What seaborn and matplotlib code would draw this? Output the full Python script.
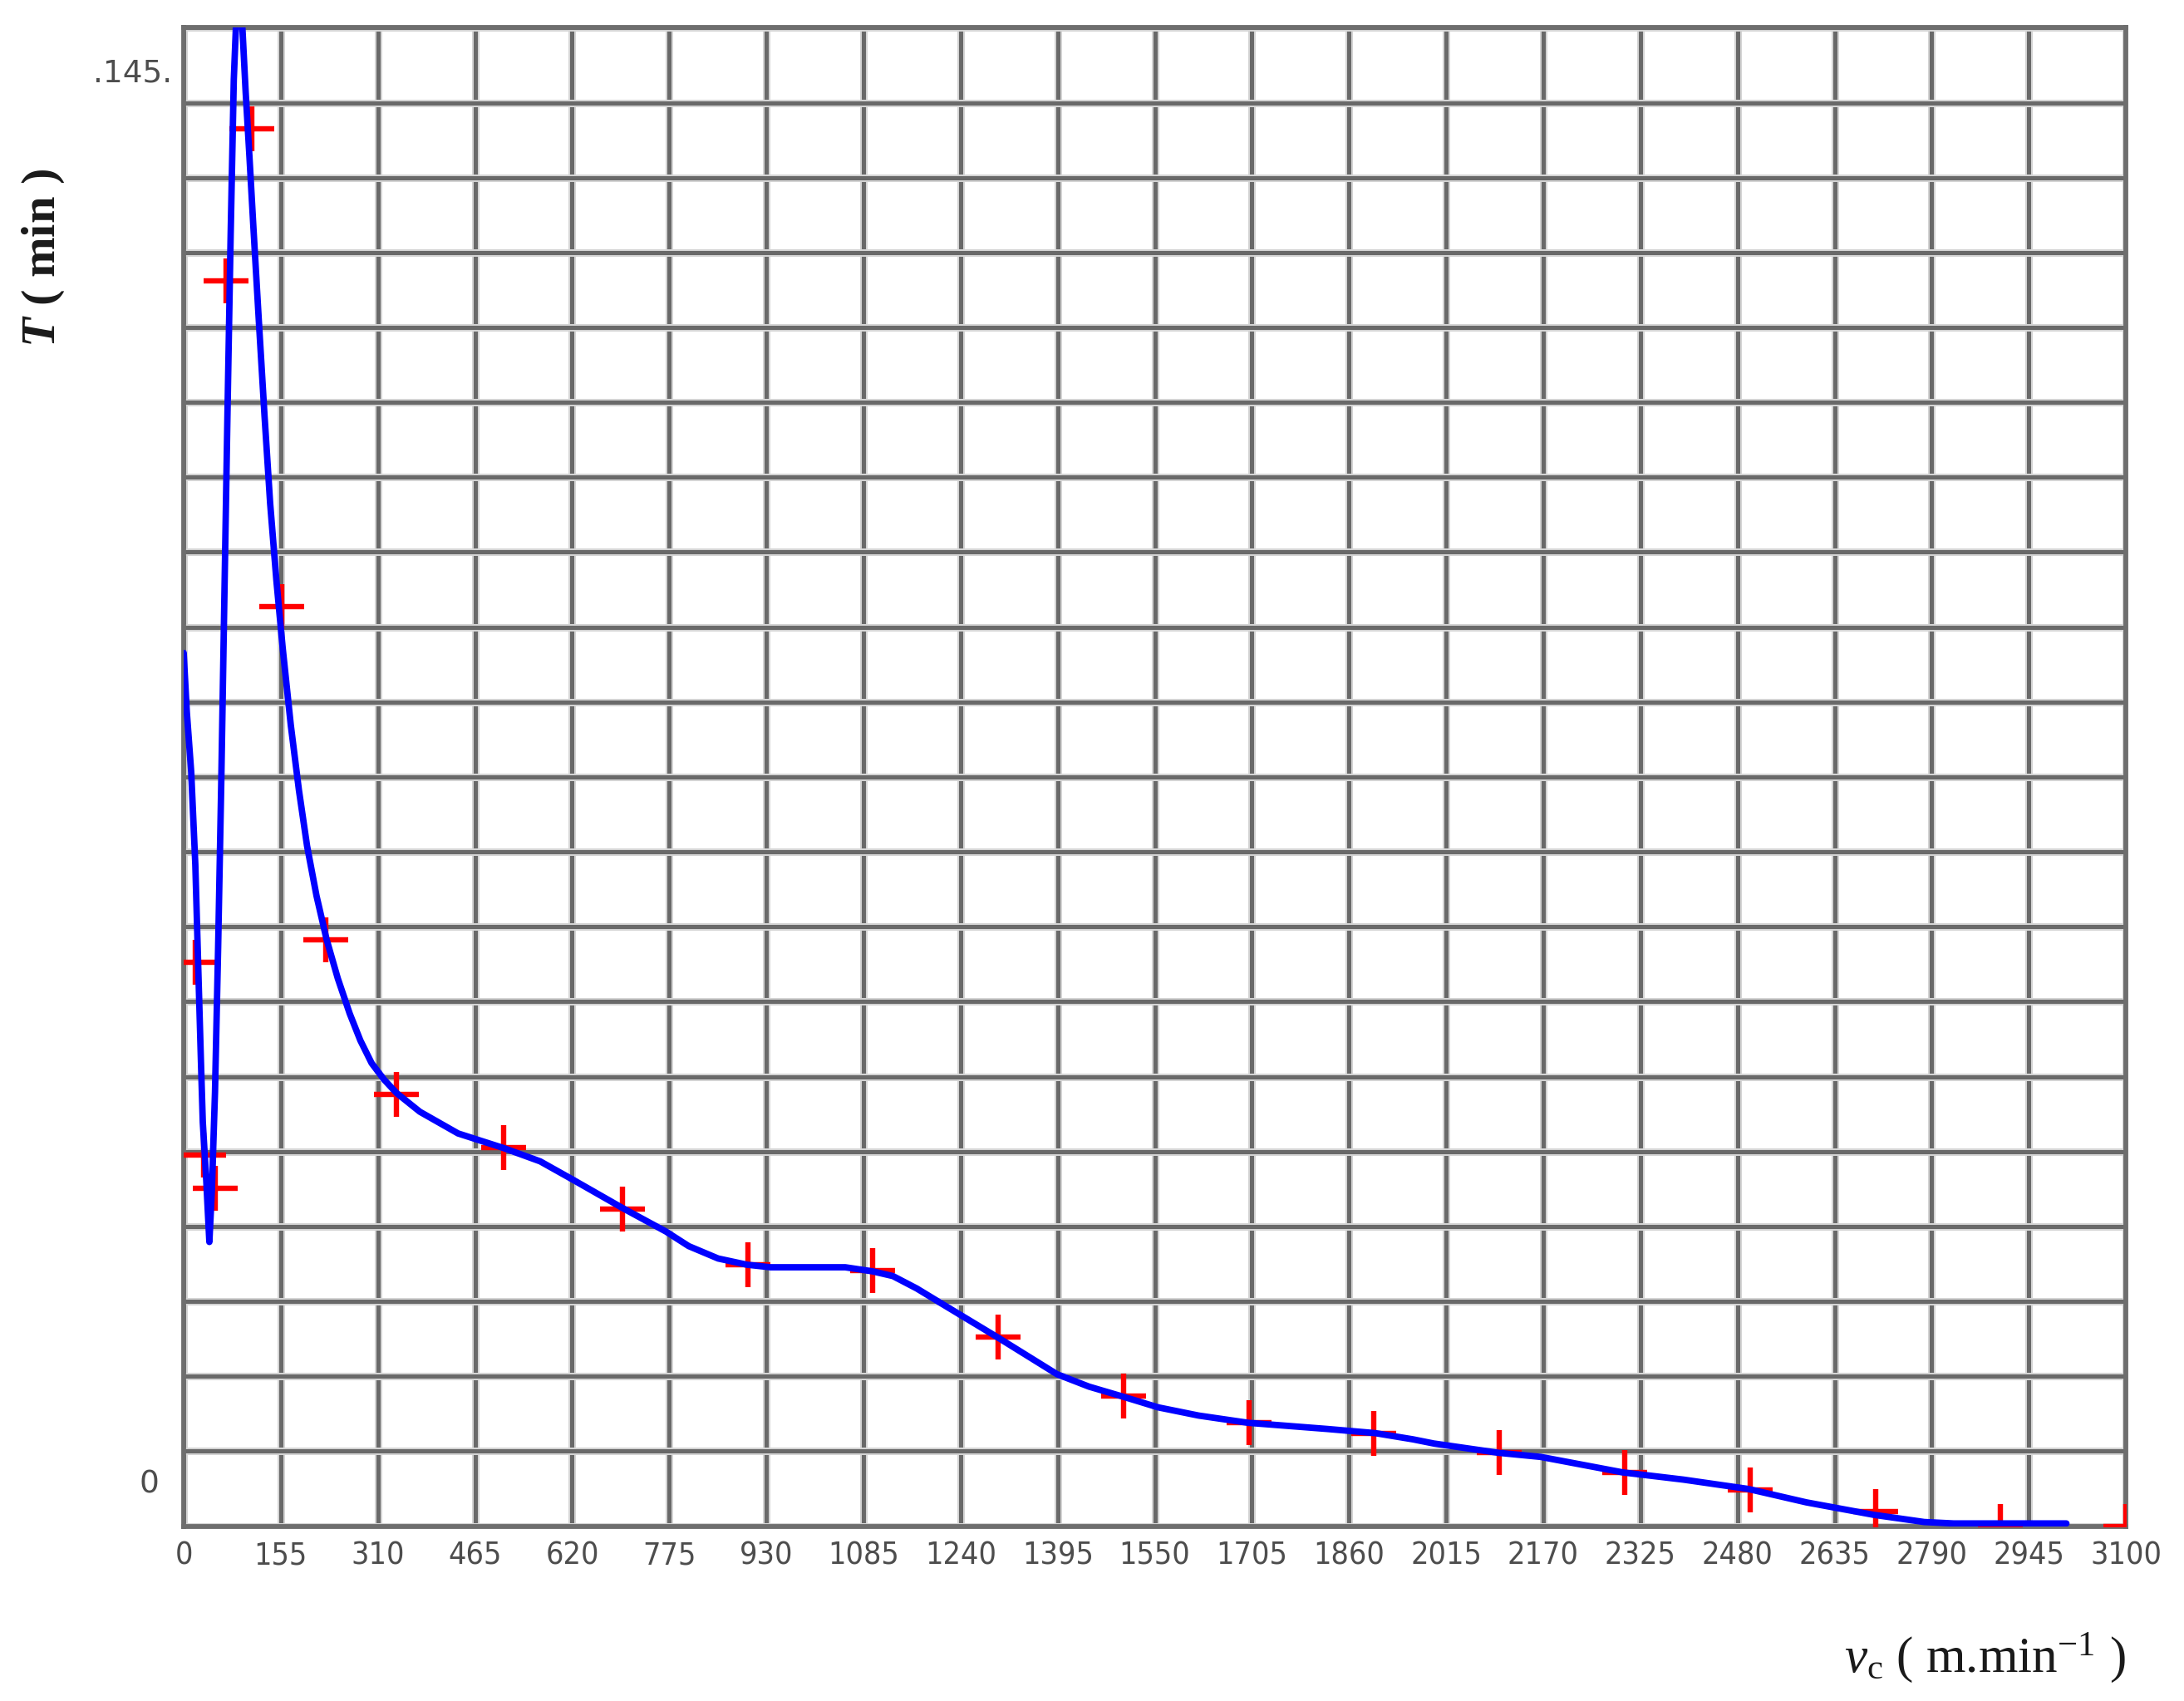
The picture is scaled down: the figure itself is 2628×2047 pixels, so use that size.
import numpy as np
import matplotlib
matplotlib.use("Agg")
import matplotlib.pyplot as plt
import matplotlib.transforms as mtransforms
from matplotlib import font_manager
import seaborn as sns

# ---- measured points (red crosses) ----
vc_points = [18, 32, 50, 67, 109, 156, 227, 340, 510, 700, 900, 1100, 1300,
             1500, 1700, 1900, 2100, 2300, 2500, 2700, 2900, 3100]
T_points = [54.6, 35.9, 32.7, 120.5, 135.2, 89.0, 56.7, 41.8, 36.6, 30.7, 25.3,
            24.7, 18.3, 12.6, 10.0, 9.0, 7.1, 5.2, 3.5, 1.4, 0.0, 0.0]

# ---- fitted curve (blue line) ----
vc_curve = [0, 5, 12, 18.6, 23, 27.5, 30.5, 36, 41, 45, 50, 55, 60, 65, 70, 75,
            80, 88, 93.8, 99, 105, 111, 120, 129, 138, 148, 158, 171, 184, 197,
            212, 228, 246, 265, 282, 300, 320, 340, 377, 438, 510, 569, 622, 700,
            770, 806, 853, 899, 937, 1056, 1100, 1132, 1170, 1208, 1301, 1394,
            1445, 1501, 1555, 1620, 1699, 1826, 1902, 1962, 1995, 2098, 2166,
            2297, 2394, 2497, 2590, 2697, 2778, 2825, 3005]
T_curve = [84.5, 78.8, 73.0, 64.0, 54.6, 45.1, 39.1, 33.5, 27.5, 32.5, 42.0,
           56.0, 72.0, 90.0, 108.0, 125.0, 140.0, 152.0, 144.9, 138.7, 132.5,
           126.0, 116.6, 107.5, 99.0, 91.5, 85.0, 77.5, 71.2, 65.8, 61.0, 56.8,
           53.0, 49.6, 47.0, 44.8, 43.2, 41.9, 40.1, 38.0, 36.6, 35.3, 33.5, 30.8,
           28.5, 27.1, 25.9, 25.3, 25.05, 25.05, 24.65, 24.2, 23.0, 21.6, 18.2,
           14.7, 13.5, 12.5, 11.5, 10.7, 10.0, 9.4, 9.0, 8.4, 8.0, 7.1, 6.7, 5.2,
           4.5, 3.6, 2.3, 1.1, 0.4, 0.26, 0.26]

x_tick_values = list(range(0, 3101, 155))
y_min, y_max = 0, 145
y_low_label, y_high_label = "0", ".145."
n_y_grid = 20

sns.set_theme(style="white")
plt.rcParams['font.family'] = ['DejaVu Sans']
plt.rcParams['mathtext.fontset'] = 'custom'
plt.rcParams['mathtext.rm'] = 'Liberation Serif'
plt.rcParams['mathtext.it'] = 'Liberation Serif:italic'
plt.rcParams['mathtext.bf'] = 'Liberation Serif:bold'
plt.rcParams['mathtext.bfit'] = 'Liberation Serif:bold:italic'

# pick a narrow font for the tick labels if one is installed
ttf = font_manager.fontManager.ttflist
names = {f.name for f in ttf}
tick_font = dict(family='Liberation Sans', size=26)
if 'Liberation Sans Narrow' in names:
    tick_font = dict(family='Liberation Sans Narrow', size=31)
elif any(f.name == 'DejaVu Sans' and str(f.stretch) in ('condensed', 'semi-condensed')
         for f in ttf):
    tick_font = dict(family='DejaVu Sans', size=27, stretch='condensed')

fig = plt.figure(figsize=(26.28, 20.47), dpi=100)
ax = fig.add_axes([0.0841, 0.1028, 0.8893, 0.8809])

sns.scatterplot(x=vc_points, y=T_points, marker='+', s=1500, color='#ff0000',
                linewidth=4.6, ax=ax, zorder=3, legend=False)
sns.lineplot(x=vc_curve, y=T_curve, sort=False, estimator=None, color='#0000ff',
             linewidth=5.6, ax=ax, zorder=4, legend=False)

ax.set_xlim(0, 3100)
ax.set_ylim(y_min, y_max)
y_grid = np.linspace(y_min, y_max, n_y_grid + 1)
ax.set_xticks(x_tick_values)
ax.set_xticklabels([str(v) for v in x_tick_values])
ax.set_yticks(y_grid)
ax.set_yticklabels([])
ax.xaxis.remove_overlapping_locs = False
ax.yaxis.remove_overlapping_locs = False
ax.set_xticks(x_tick_values, minor=True)
ax.set_yticks(y_grid, minor=True)
ax.tick_params(which='both', length=0)
ax.tick_params(axis='x', labelcolor='#4d4d4d', pad=13)
ax.set_axisbelow(True)
# wide light halo (major) + darker translucent core (minor, drawn on top)
ax.grid(which='major', color='#d4d4d4', linewidth=6.5)
ax.grid(which='minor', color='#000000', alpha=0.5, linewidth=3.6)
for lbl in ax.get_xticklabels():
    lbl.set_fontfamily(tick_font['family'])
    lbl.set_fontsize(tick_font['size'])
    if 'stretch' in tick_font:
        lbl.set_fontstretch(tick_font['stretch'])
for s in ax.spines.values():
    s.set_color('#6e6e6e')
    s.set_linewidth(4.2)
ax.set_xlabel('')
ax.set_ylabel('')

trans = mtransforms.blended_transform_factory(ax.transAxes, ax.transData)
ax.text(-0.0125, 4.0, y_low_label, transform=trans, ha='right', va='center',
        fontsize=tick_font['size'], color='#4d4d4d', family=tick_font['family'])
ax.text(-0.006, 140.6, y_high_label, transform=trans, ha='right', va='center',
        fontsize=tick_font['size'], color='#4d4d4d', family=tick_font['family'])

fig.text(2558 / 2628, 1 - 1995 / 2047, r'$v_{\mathrm{c}}$ ( m.min$^{\mathrm{-1}}$ )',
         ha='right', va='center', fontsize=44, family='Liberation Serif',
         color='#1a1a1a')
fig.text(52 / 2628, 1 - 310 / 2047, r'$\mathbfit{T}$ ( min )', rotation=90,
         ha='center', va='center', fontsize=42, family='Liberation Serif',
         fontweight='bold', color='#1a1a1a')

fig.savefig('out.png', dpi=100)
